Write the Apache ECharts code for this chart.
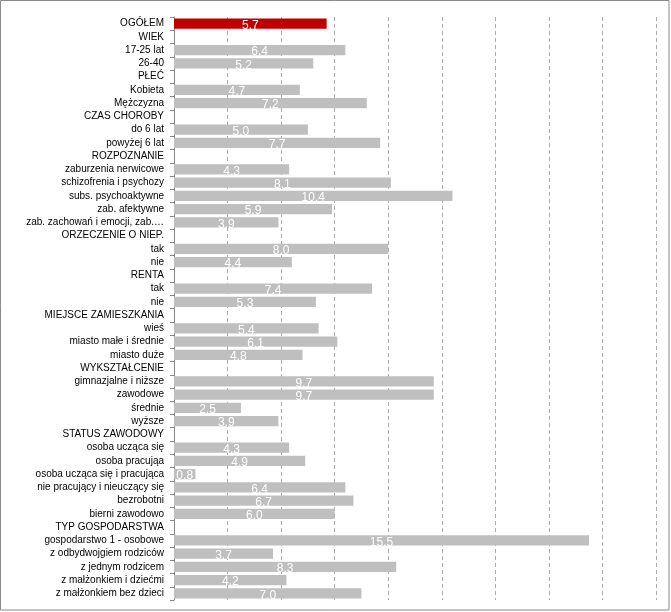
<!DOCTYPE html>
<html>
<head>
<meta charset="utf-8">
<script src="https://cdn.jsdelivr.net/npm/echarts@6/dist/echarts.min.js"></script>
<style>
html,body{margin:0;padding:0;background:#fff;}
#chart{width:671px;height:612px;}
</style>
</head>
<body>
<div id="chart"></div>
<script>
var categories = [
  "OGÓŁEM","WIEK","17-25 lat","26-40","PŁEĆ","Kobieta","Mężczyzna","CZAS CHOROBY",
  "do 6 lat","powyżej 6 lat","ROZPOZNANIE","zaburzenia nerwicowe","schizofrenia i psychozy",
  "subs. psychoaktywne","zab. afektywne","zab. zachowań i emocji, zab.…","ORZECZENIE O NIEP.",
  "tak","nie","RENTA","tak ","nie ","MIEJSCE ZAMIESZKANIA","wieś","miasto małe i średnie",
  "miasto duże","WYKSZTAŁCENIE","gimnazjalne i niższe","zawodowe","średnie","wyższe",
  "STATUS ZAWODOWY","osoba ucząca się","osoba pracująa","osoba ucząca się i pracująca",
  "nie pracujący i nieuczący się","bezrobotni","bierni zawodowo","TYP GOSPODARSTWA",
  "gospodarstwo 1 - osobowe","z odbydwojgiem rodziców","z jednym rodzicem",
  "z małżonkiem i dziećmi","z małżonkiem bez dzieci"
];
var values = [
  5.7,null,6.4,5.2,null,4.7,7.2,null,
  5.0,7.7,null,4.3,8.1,
  10.4,5.9,3.9,null,
  8.0,4.4,null,7.4,5.3,null,5.4,6.1,
  4.8,null,9.7,9.7,2.5,3.9,
  null,4.3,4.9,0.8,
  6.4,6.7,6.0,null,
  15.5,3.7,8.3,
  4.2,7.0
];
var highlightIndex = 0;

var chart = echarts.init(document.getElementById('chart'));
var data = values.map(function(v, i){
  if (v === null) return null;
  return {value: v, itemStyle: {color: i === highlightIndex ? '#C00000' : '#BFBFBF'}};
});
chart.setOption({
  animation: false,
  grid: {left: 174, right: 15, top: 17, bottom: 12, containLabel: false},
  xAxis: {
    type: 'value', min: 0, max: 18, interval: 2,
    axisLabel: {show: false}, axisTick: {show: false}, axisLine: {show: false},
    splitLine: {show: true, lineStyle: {color: '#ADADAD', type: [4, 3], width: 1}}
  },
  yAxis: {
    type: 'category', data: categories, inverse: true,
    axisLine: {show: true, lineStyle: {color: '#868686'}},
    axisTick: {show: true, length: 4, lineStyle: {color: '#868686'}},
    axisLabel: {
      color: '#000', fontSize: 10, fontFamily: 'Liberation Sans', margin: 10, interval: 0,
      formatter: function(v){ return String(v).trim(); }
    }
  },
  series: [{
    type: 'bar', data: data, barCategoryGap: '22%',
    label: {
      show: true, position: 'inside', color: '#fff', fontSize: 12,
      fontFamily: 'Liberation Sans', offset: [0, 2],
      formatter: function(p){ return p.value.toFixed(1).replace('.', ','); }
    }
  }],
  graphic: [{
    type: 'rect', shape: {x: 0.5, y: 0.5, width: 668.5, height: 609.5},
    style: {fill: 'none', stroke: '#8A8A8A', lineWidth: 1}, silent: true
  }]
});
</script>
</body>
</html>
